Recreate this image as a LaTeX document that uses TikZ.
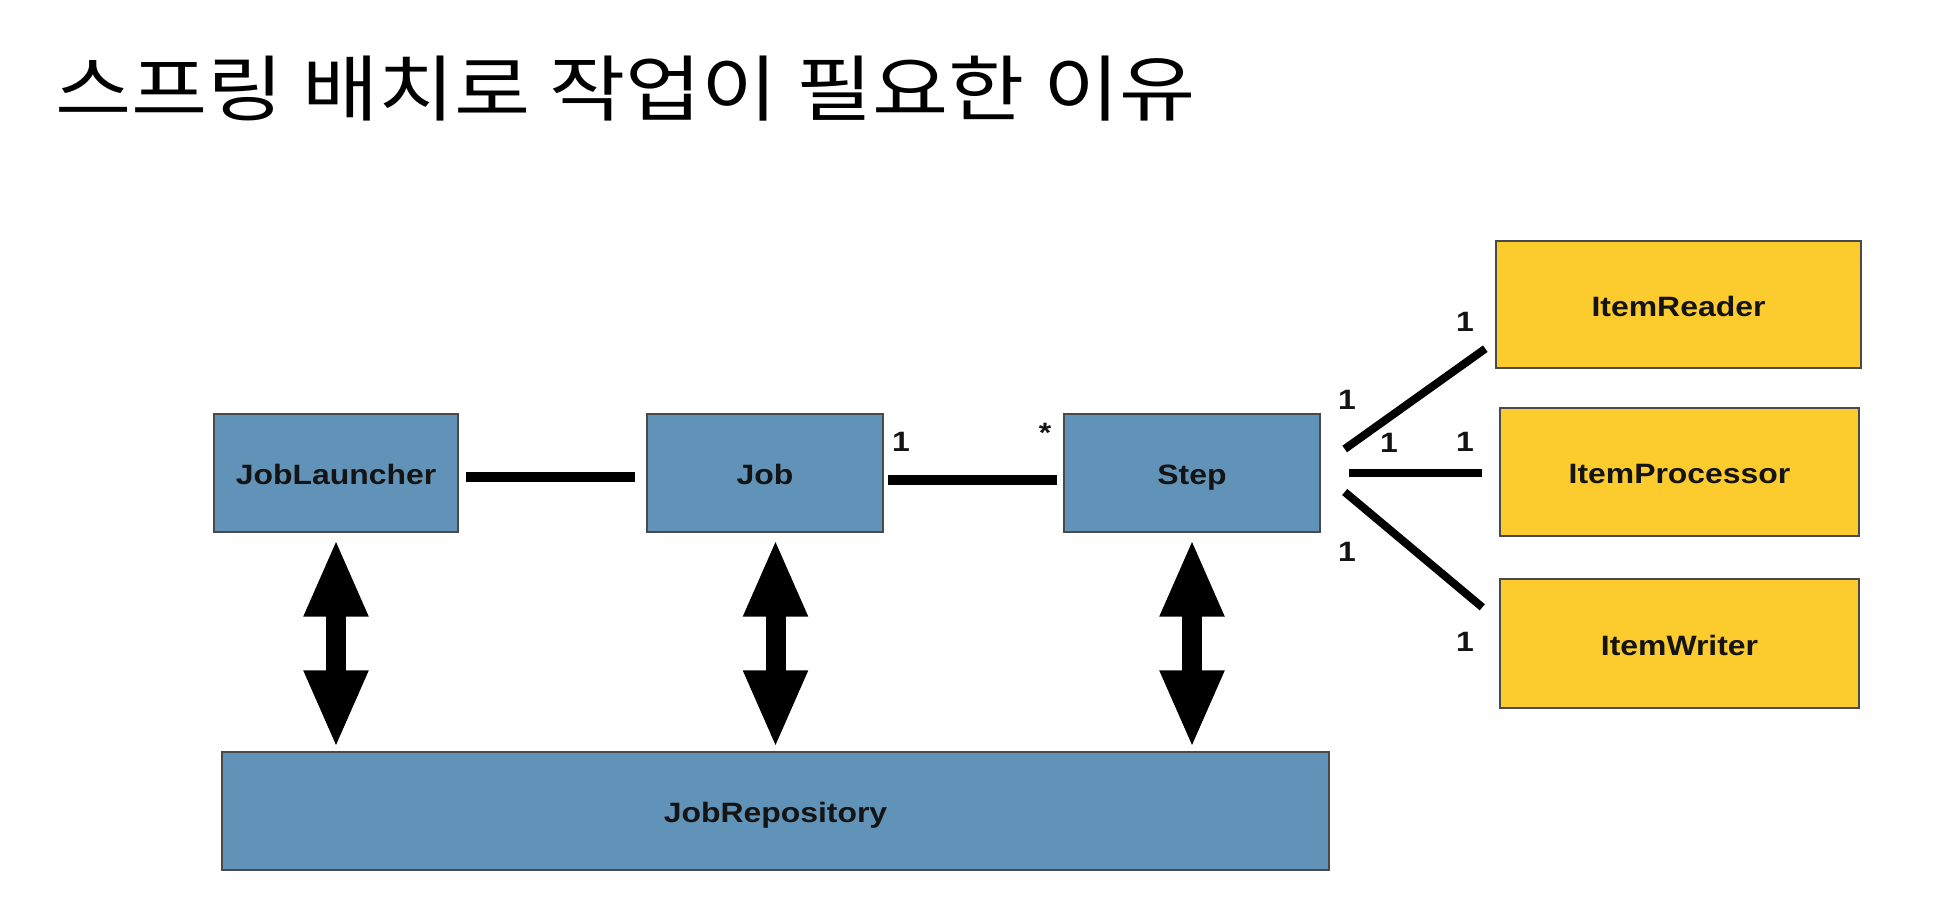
\documentclass[tikz,border=0pt]{standalone}
\usepackage{fontspec}
\setmainfont{Liberation Sans}
\newfontfamily\krfont[FakeStretch=1.15]{Noto Sans CJK KR}
\newfontfamily\lblfont[FakeStretch=1.14]{Liberation Sans}
\usetikzlibrary{arrows.meta,calc}
\definecolor{boxblue}{HTML}{6093B7}
\definecolor{boxyellow}{HTML}{FCCB2D}
\definecolor{boxedge}{HTML}{4A4A4A}
\definecolor{inktext}{HTML}{141414}
\tikzset{
  boxbase/.style={draw=boxedge, line width=0.7pt, inner sep=0pt, text=inktext,
    text height=11.5pt, text depth=0pt,
    font=\lblfont\bfseries\fontsize{14pt}{16pt}\selectfont},
  bluebox/.style={boxbase, fill=boxblue},
  yellowbox/.style={boxbase, fill=boxyellow},
  linkthick/.style={line width=5pt},
  linkthin/.style={line width=4pt},
  blockarrow/.style={line width=10pt,
    {Triangle[length=39pt,width=29.5pt]}-{Triangle[length=39pt,width=29.5pt]}},
  mult/.style={inner sep=0pt, text=inktext, font=\lblfont\bfseries\fontsize{14pt}{16pt}\selectfont},
}
\begin{document}
\begin{tikzpicture}[x=0.5pt,y=-0.5pt]
\useasboundingbox (0,0) rectangle (1959,899);
\fill[white] (0,0) rectangle (1959,899);

\node[anchor=base west, inner sep=0pt] (title) at (55,116)
  {\krfont\fontsize{36pt}{42pt}\selectfont 스프링 배치로 작업이 필요한 이유};

\node[bluebox, minimum width=122pt, minimum height=59pt] (jl) at (336,473) {JobLauncher};
\node[bluebox, minimum width=118pt, minimum height=59pt] (job) at (765,473) {Job};
\node[bluebox, minimum width=128pt, minimum height=59pt] (step) at (1192,473) {Step};
\node[bluebox, minimum width=553.5pt, minimum height=59pt] (repo) at (775.5,811) {JobRepository};

\node[yellowbox, minimum width=182.5pt, minimum height=63.5pt] (reader) at (1678.5,304.5) {ItemReader};
\node[yellowbox, minimum width=179.5pt, minimum height=64pt] (proc) at (1679.5,472) {ItemProcessor};
\node[yellowbox, minimum width=179.5pt, minimum height=64.5pt] (writer) at (1679.5,643.5) {ItemWriter};

% associations
\draw[linkthick] ($(jl.east)+(7,4)$) -- ($(job.west)+(-11,4)$);
\draw[linkthick] ($(job.east)+(4,7)$) -- ($(step.west)+(-6,7)$);
\draw[linkthin] ($(step.east)+(24,-24)$) -- ($(reader.south west)+(-10,-20)$);
\draw[linkthin] ($(step.east)+(28,0)$) -- ($(proc.west)+(-17,1)$);
\draw[linkthin] ($(step.east)+(24,19)$) -- ($(writer.north west)+(-17,29)$);

% multiplicities
\node[mult] (m1) at (901,442) {1};
\node[mult] (m2) at (1045,433) {*};
\node[mult] (m3) at (1347,400) {1};
\node[mult] (m4) at (1465,322) {1};
\node[mult] (m5) at (1389,443) {1};
\node[mult] (m6) at (1465,442) {1};
\node[mult] (m7) at (1347,552) {1};
\node[mult] (m8) at (1465,642) {1};

% repository access arrows
\draw[blockarrow] ($(jl.south)+(0,6)$) -- ($(jl.south |- repo.north)+(0,-3)$);
\draw[blockarrow] ($(repo.north |- job.south)+(0,6)$) -- ($(repo.north)+(0,-3)$);
\draw[blockarrow] ($(step.south)+(0,6)$) -- ($(step.south |- repo.north)+(0,-3)$);
\end{tikzpicture}
\end{document}
